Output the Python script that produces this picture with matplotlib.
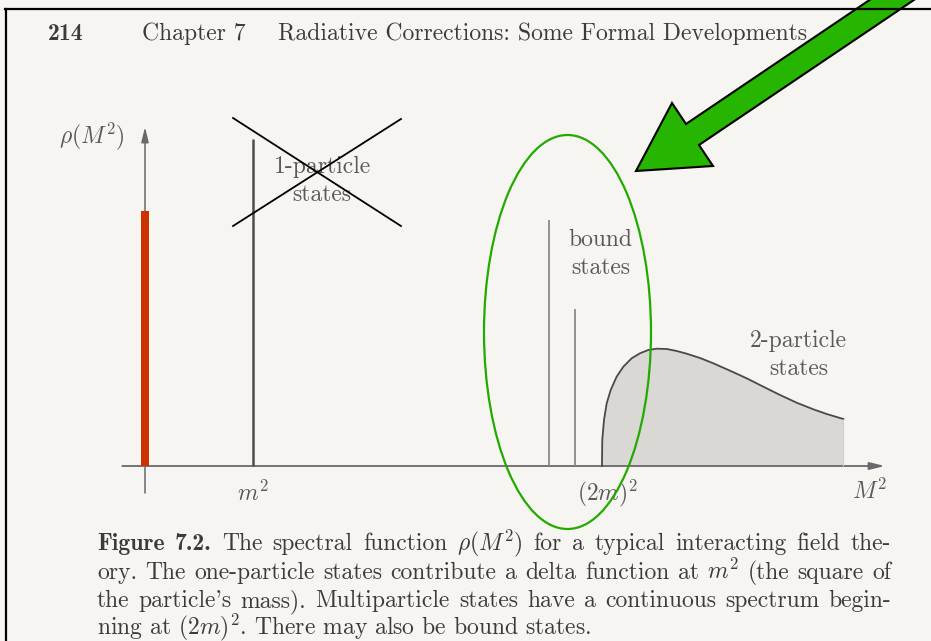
import numpy as np
import matplotlib
matplotlib.use("Agg")
import matplotlib.pyplot as plt
from matplotlib.patches import Ellipse, Polygon
from matplotlib.lines import Line2D

plt.rcParams['mathtext.fontset'] = 'cm'
plt.rcParams['font.family'] = ['cmr10', 'DejaVu Serif']

W, H = 931, 641
X0_PX, Y0_PX = 145, 466      # origin of the M^2 / rho axes on the page
UX, UY = 108.0, 100.0        # pixels per unit along each axis

# spectral weights (arbitrary units, m^2 = 1)
one_particle_x = 1.0
one_particle_h = 3.27
red_bar_x = 0.0
red_bar_h = 2.55
bound_x = [3.74, 3.98]
bound_h = [2.46, 1.57]
threshold = 4.23

# two-particle continuum
cont_x = [4.231, 4.234, 4.250, 4.275, 4.312, 4.367, 4.429, 4.506, 4.583, 4.660,
          4.738, 4.831, 4.923, 5.016, 5.139, 5.262, 5.417, 5.571, 5.725, 5.880,
          6.034, 6.188, 6.312, 6.466]
cont_y = [0.0, 0.26, 0.46, 0.627, 0.76, 0.893, 0.993, 1.077, 1.127, 1.16,
          1.173, 1.17, 1.15, 1.123, 1.08, 1.027, 0.953, 0.877, 0.793, 0.71,
          0.633, 0.567, 0.52, 0.47]

tick_pos = [1.0, 4.28]
tick_labels = [r'$m^2$', r'$(2m)^2$']

caption = [
    [("Figure", 'b'), ("7.2.", 'b'), ("The", 'r'), ("spectral", 'r'), ("function", 'r'),
     (r"$\rho(M^2)$", 'r'), ("for", 'r'), ("a", 'r'), ("typical", 'r'), ("interacting", 'r'),
     ("field", 'r'), ("the-", 'r')],
    [("ory.", 'r'), ("The", 'r'), ("one-particle", 'r'), ("states", 'r'), ("contribute", 'r'),
     ("a", 'r'), ("delta", 'r'), ("function", 'r'), ("at", 'r'), (r"$m^2$", 'r'), ("(the", 'r'),
     ("square", 'r'), ("of", 'r')],
    [("the", 'r'), ("particle's", 'r'), ("mass).", 'r'), ("Multiparticle", 'r'), ("states", 'r'),
     ("have", 'r'), ("a", 'r'), ("continuous", 'r'), ("spectrum", 'r'), ("begin-", 'r')],
]
caption_last = r"ning at $(2m)^2$. There may also be bound states."

page_bg = '#f6f5f2'
ink = '#3c3a3c'
grey = '#5a585a'
FS = 17


def px(x, y):
    # page pixel -> data units
    return (x - X0_PX) / UX, (Y0_PX - y) / UY


fig = plt.figure(figsize=(W / 100, H / 100), dpi=100)
fig.patch.set_facecolor(page_bg)
ax = fig.add_axes([0, 0, 1, 1])
ax.set_xlim(-X0_PX / UX, (W - X0_PX) / UX)
ax.set_ylim(-(H - Y0_PX) / UY, Y0_PX / UY)
ax.axis('off')

# axes with arrow heads
ax.annotate('', xy=(6.85, 0), xytext=(-0.21, 0),
            arrowprops=dict(arrowstyle='-|>,head_length=0.9,head_width=0.22',
                            color='#6a686a', lw=1.3, shrinkA=0, shrinkB=0))
ax.annotate('', xy=(0, 3.39), xytext=(0, -0.27),
            arrowprops=dict(arrowstyle='-|>,head_length=0.9,head_width=0.22',
                            color='#6a686a', lw=1.1, shrinkA=0, shrinkB=0))

# continuum
ax.fill_between(cont_x, cont_y, 0, color='#dad8d5', lw=0, zorder=2)
ax.plot(cont_x, cont_y, color='#4a484a', lw=1.3, zorder=3)
ax.vlines(cont_x[-1], 0, cont_y[-1], color='#d0cecb', lw=0.8, zorder=3)

# delta functions
ax.vlines(one_particle_x, 0, one_particle_h, color='#4e4c4e', lw=1.8, zorder=3)
ax.vlines(bound_x, 0, bound_h, color='#8a888a', lw=1.3, zorder=3)
ax.bar([red_bar_x], [red_bar_h], width=0.065, color='#cc3300', zorder=4)

# labels
for xp, lab in zip(tick_pos, tick_labels):
    ax.text(xp, -0.27, lab, ha='center', va='center', fontsize=FS, color=grey)
ax.text(6.71, -0.25, r'$M^2$', ha='center', va='center', fontsize=FS, color=grey)
ax.text(-0.49, 3.30, r'$\rho(M^2)$', ha='center', va='center', fontsize=FS, color=grey)
ax.text(1.64, 2.85, '1-particle\nstates', ha='center', va='center', fontsize=FS,
        color=grey, linespacing=1.3)
ax.text(4.22, 2.12, 'bound\nstates', ha='center', va='center', fontsize=FS,
        color=grey, linespacing=1.3)
ax.text(6.05, 1.11, '2-particle\nstates', ha='center', va='center', fontsize=FS,
        color=grey, linespacing=1.3)

# crossed-out one-particle states
cx = [0.815, 2.37]
ax.plot(cx, [3.48, 2.40], color='black', lw=1.3, zorder=5)
ax.plot(cx, [2.40, 3.47], color='black', lw=1.3, zorder=5)

# green highlight ellipse and arrow
ax.add_patch(Ellipse(px(567.5, 332), 167 / UX, 394 / UY, fill=False,
                     edgecolor='#22aa00', lw=1.6, zorder=6))
arrow_px = [(636, 171), (672, 103), (686, 124), (982, -76), (1025, -75),
            (699, 145), (713, 166)]
ax.add_patch(Polygon([px(x, y) for x, y in arrow_px], closed=True,
                     facecolor='#26b500', edgecolor='black', lw=1.5, zorder=7))

# page header
fig.text(48 / W, 1 - 40 / H, '214', family='cmb10', fontsize=FS, color=ink)
fig.text(142 / W, 1 - 40 / H, 'Chapter 7', fontsize=FS, color=ink)
fig.text(278 / W, 1 - 40 / H, 'Radiative Corrections: Some Formal Developments',
         fontsize=FS, color=ink)

# page frame
fig.add_artist(Line2D([5 / W, 1], [1 - 8.5 / H] * 2, color='black', lw=1.6))
fig.add_artist(Line2D([5.5 / W] * 2, [0, 1 - 8.5 / H], color='black', lw=1.6))

# justified caption
renderer = fig.canvas.get_renderer()
left, right = 97, 891
baselines = [550, 579, 607, 634]
for words, yb in zip(caption, baselines):
    texts = []
    for s, f in words:
        t = fig.text(0, 1 - yb / H, s, fontsize=FS, color=ink,
                     family='cmb10' if f == 'b' else 'cmr10', va='baseline')
        texts.append(t)
    widths = [t.get_window_extent(renderer).width for t in texts]
    gap = (right - left - sum(widths)) / (len(texts) - 1)
    x = left
    for t, w in zip(texts, widths):
        t.set_x(x / W)
        x += w + gap
fig.text(left / W, 1 - baselines[3] / H, caption_last, fontsize=FS, color=ink,
         va='baseline')

fig.savefig('out.png', dpi=100, facecolor=page_bg)
